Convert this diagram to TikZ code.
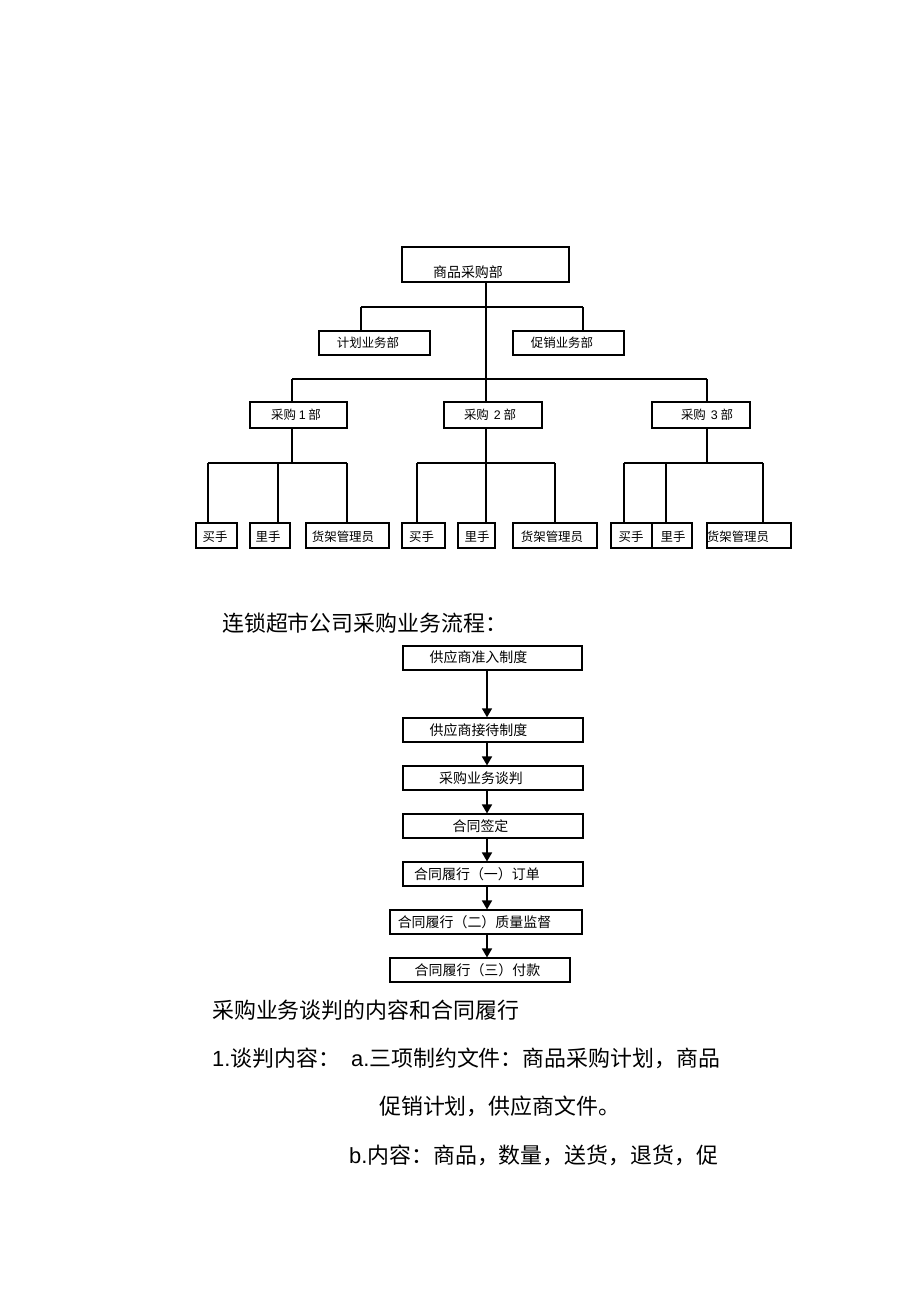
\documentclass[tikz,border=0pt]{standalone}
\usepackage{fontspec}
\setmainfont{Noto Sans CJK SC}
\newfontfamily\lat{Liberation Sans}
\usetikzlibrary{arrows.meta}
\newcommand{\fsz}[1]{\fontsize{#1}{#1}\selectfont}
\tikzset{
  box/.style={draw, line width=1.1bp, inner sep=0pt, minimum height=24bp},
  lbl/.style={inner sep=0pt, font=\fsz{12.5}},
  flbl/.style={inner sep=0pt, font=\fsz{14}},
  txt/.style={inner sep=0pt, anchor=west},
  ln/.style={line width=1.2bp},
  thk/.style={line width=2.2bp},
  arr/.style={line width=1.6bp, -{Triangle[width=10bp,length=9bp]}}
}
\begin{document}
\begin{tikzpicture}[x=1bp,y=-1bp]
\useasboundingbox[fill=white] (0,0) rectangle (920,1303);

% ---------- organisation chart ----------
\node[box, minimum width=167bp, minimum height=35bp] (top) at (485.5,264.5) {};
\node[lbl, font=\fsz{14}] (ttop) at (468,272) {商品采购部};

\node[box, minimum width=111bp] (jh) at (374.5,343) {};
\node[lbl] (tjh) at (368,343) {计划业务部};
\node[box, minimum width=111bp] (cx) at (568.5,343) {};
\node[lbl] (tcx) at (562,343) {促销业务部};

\node[box, minimum width=97bp, minimum height=26bp] (c1) at (298.5,415) {};
\node[lbl] (tc1) at (296,415) {采购 {\lat 1} 部};
\node[box, minimum width=98bp, minimum height=26bp] (c2) at (493,415) {};
\node[lbl] (tc2) at (490,415) {采购 \,{\lat 2} 部};
\node[box, minimum width=98bp, minimum height=26bp] (c3) at (701,415) {};
\node[lbl] (tc3) at (707,415) {采购 \,{\lat 3} 部};

\node[box, minimum width=41bp, minimum height=25bp] (m1) at (216.5,535.5) {};
\node[lbl] (tm1) at (215,537) {买手};
\node[box, minimum width=40bp, minimum height=25bp] (l1) at (270,535.5) {};
\node[lbl] (tl1) at (268,537) {里手};
\node[box, minimum width=83bp, minimum height=25bp] (h1) at (347.5,535.5) {};
\node[lbl] (th1) at (343,537) {货架管理员};

\node[box, minimum width=43bp, minimum height=25bp] (m2) at (423.5,535.5) {};
\node[lbl] (tm2) at (421.5,537) {买手};
\node[box, minimum width=37bp, minimum height=25bp] (l2) at (476.5,535.5) {};
\node[lbl] (tl2) at (477,537) {里手};
\node[box, minimum width=84bp, minimum height=25bp] (h2) at (555,535.5) {};
\node[lbl] (th2) at (552,537) {货架管理员};

\node[box, minimum width=41bp, minimum height=25bp] (m3) at (631.5,535.5) {};
\node[lbl] (tm3) at (631,537) {买手};
\node[box, minimum width=40bp, minimum height=25bp] (l3) at (672,535.5) {};
\node[lbl] (tl3) at (673,537) {里手};
\node[box, minimum width=84bp, minimum height=25bp] (h3) at (749,535.5) {};
\node[lbl] (th3) at (738,537) {货架管理员};

% bus points
\coordinate (tx) at (486,0);
\coordinate (p1) at (361,307);
\coordinate (p2) at (583,307);
\coordinate (q1) at (292,379);
\coordinate (q3) at (707,379);
\coordinate (g1a) at (208,463);
\coordinate (g1b) at (278,463);
\coordinate (g1c) at (347,463);
\coordinate (g2a) at (417,463);
\coordinate (g2b) at (486,463);
\coordinate (g2c) at (555,463);
\coordinate (g3a) at (624,463);
\coordinate (g3b) at (666,463);
\coordinate (g3c) at (763,463);

% trunk
\draw[ln] (top.south -| tx) -- (tx |- c2.north);
\draw[ln] (p1) -- (p2);
\draw[thk] (p1) -- (p1 |- jh.north);
\draw[thk] (p2) -- (p2 |- cx.north);
\draw[ln] (q1) -- (q3);
\draw[ln] (q1) -- (q1 |- c1.north);
\draw[ln] (q3) -- (q3 |- c3.north);

% group 1
\draw[ln] (c1.south -| q1) -- (q1 |- g1a);
\draw[ln] (g1a) -- (g1c);
\draw[ln] (g1a) -- (g1a |- m1.north);
\draw[thk] (g1b) -- (g1b |- l1.north);
\draw[ln] (g1c) -- (g1c |- h1.north);

% group 2
\draw[ln] (c2.south -| tx) -- (g2b);
\draw[ln] (g2a) -- (g2c);
\draw[thk] (g2a) -- (g2a |- m2.north);
\draw[ln] (g2b) -- (g2b |- l2.north);
\draw[thk] (g2c) -- (g2c |- h2.north);

% group 3
\draw[ln] (c3.south -| q3) -- (q3 |- g3a);
\draw[ln] (g3a) -- (g3c);
\draw[ln] (g3a) -- (g3a |- m3.north);
\draw[thk] (g3b) -- (g3b |- l3.north);
\draw[ln] (g3c) -- (g3c |- h3.north);

% ---------- flow chart ----------
\node[txt, font=\fsz{22}] (title) at (222,623) {连锁超市公司采购业务流程：};

\node[box, minimum width=179bp] (f1) at (492.5,658) {};
\node[flbl] (tf1) at (478.5,657) {供应商准入制度};
\node[box, minimum width=180bp, line width=1.4bp] (f2) at (493,730) {};
\node[flbl] (tf2) at (478.5,730) {供应商接待制度};
\node[box, minimum width=180bp] (f3) at (493,778) {};
\node[flbl] (tf3) at (481,778) {采购业务谈判};
\node[box, minimum width=180bp] (f4) at (493,826) {};
\node[flbl] (tf4) at (480.5,826) {合同签定};
\node[box, minimum width=180bp] (f5) at (493,874) {};
\node[flbl] (tf5) at (477,874) {合同履行（一）订单};
\node[box, minimum width=192bp] (f6) at (486,922) {};
\node[flbl] (tf6) at (474.5,922) {合同履行（二）质量监督};
\node[box, minimum width=180bp] (f7) at (480,970) {};
\node[flbl] (tf7) at (477.5,970) {合同履行（三）付款};

\coordinate (ax) at (487,0);
\draw[arr] (f1.south -| ax) -- (ax |- f2.north);
\draw[arr] (f2.south -| ax) -- (ax |- f3.north);
\draw[arr] (f3.south -| ax) -- (ax |- f4.north);
\draw[arr] (f4.south -| ax) -- (ax |- f5.north);
\draw[arr] (f5.south -| ax) -- (ax |- f6.north);
\draw[arr] (f6.south -| ax) -- (ax |- f7.north);

% ---------- text ----------
\node[txt, font=\fsz{22}] (s1) at (212,1010) {采购业务谈判的内容和合同履行};
\node[txt, font=\fsz{22}] (s2) at (212,1058) {{\lat 1.}谈判内容：\hspace{11bp}{\lat a.}三项制约文件：商品采购计划，商品};
\node[txt, font=\fsz{22}] (s3) at (379,1106) {促销计划，供应商文件。};
\node[txt, font=\fsz{22}] (s4) at (349,1155) {{\lat b.}内容：商品，数量，送货，退货，促};
\end{tikzpicture}
\end{document}
